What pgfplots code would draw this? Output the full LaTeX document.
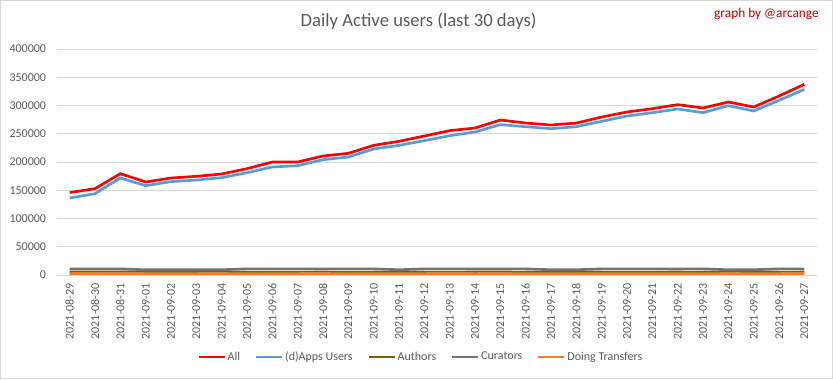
\documentclass[border=0pt]{standalone}
\usepackage{fontspec}
\setmainfont{Carlito}
\usepackage{pgfplots}
\pgfplotsset{compat=1.18}
\definecolor{gridgray}{HTML}{D9D9D9}
\definecolor{labelgray}{HTML}{595959}
\definecolor{allred}{HTML}{FF0000}
\definecolor{appblue}{HTML}{5B9BD5}
\definecolor{autholive}{HTML}{7F6000}
\definecolor{curgray}{HTML}{737373}
\definecolor{trorange}{HTML}{ED7D31}
\definecolor{signred}{HTML}{C00000}
\begin{document}
\begin{tikzpicture}
\path[use as bounding box] (0,0) rectangle (624.75pt,284.25pt);
\draw[gridgray, line width=0.75pt] (0.375pt,0.375pt) rectangle (624.375pt,283.875pt);
\node[font=\fontsize{14}{16.8}\selectfont, text=labelgray, inner sep=0pt] at (314pt,268.5pt) {Daily Active users (last 30 days)};
\node[font=\fontsize{10}{12}\selectfont, text=signred, inner sep=0pt, anchor=east] at (614.25pt,273.75pt) {graph by @arcange};
\begin{axis}[
  scale only axis, width=570pt, height=169.5pt,
  at={(42.75pt,78pt)}, anchor=south west,
  xmin=-0.5, xmax=29.5, ymin=0, ymax=400000,
  ytick={0,50000,...,400000},
  scaled y ticks=false,
  /pgf/number format/assume math mode=true,
  yticklabel style={/pgf/number format/fixed, /pgf/number format/1000 sep={}},
  xtick={0,...,29},
  xticklabels={2021-08-29,2021-08-30,2021-08-31,2021-09-01,2021-09-02,2021-09-03,2021-09-04,2021-09-05,2021-09-06,2021-09-07,2021-09-08,2021-09-09,2021-09-10,2021-09-11,2021-09-12,2021-09-13,2021-09-14,2021-09-15,2021-09-16,2021-09-17,2021-09-18,2021-09-19,2021-09-20,2021-09-21,2021-09-22,2021-09-23,2021-09-24,2021-09-25,2021-09-26,2021-09-27},
  xticklabel style={rotate=90, anchor=east, inner sep=0pt},
  yticklabel style={anchor=east, inner sep=0pt},
  xticklabel shift=6pt,
  yticklabel shift=8pt,
  tick label style={font=\fontsize{9}{10.8}\selectfont, text=labelgray},
  major tick length=0pt,
  ymajorgrids,
  grid style={draw=gridgray, line width=0.75pt},
  axis x line*=bottom, axis y line*=left,
  x axis line style={draw=gridgray, line width=0.75pt, -},
  y axis line style={draw=none},
  legend columns=-1,
  legend style={draw=none, fill=none, at={(0.4776,-0.3628)}, anchor=center,
    font=\fontsize{9}{10.8}\selectfont, text=labelgray,
    nodes={inner sep=0pt},
    /tikz/every even column/.append style={column sep=11.25pt},
    /tikz/every odd column/.append style={column sep=1.5pt}},
  legend image code/.code={\draw[#1, line width=1.5pt] (0pt,0pt) -- (19.5pt,0pt);},
  every axis plot/.append style={line width=2pt, mark=none, line join=round},
]
\addplot[allred] coordinates {(0,146000)(1,152800)(2,179400)(3,164600)(4,171700)(5,174600)(6,178800)(7,188200)(8,200000)(9,200000)(10,210600)(11,215300)(12,229500)(13,236600)(14,246000)(15,255500)(16,260200)(17,274300)(18,269000)(19,265500)(20,269000)(21,279600)(22,288500)(23,294400)(24,301500)(25,295600)(26,306200)(27,297300)(28,316800)(29,337500)};
\addlegendentry{All}
\addplot[appblue] coordinates {(0,136300)(1,144000)(2,171700)(3,158100)(4,165200)(5,168100)(6,172300)(7,181100)(8,191200)(9,193500)(10,204100)(11,208800)(12,223000)(13,229500)(14,237800)(15,246600)(16,253100)(17,266100)(18,262500)(19,259000)(20,262500)(21,272000)(22,281400)(23,287300)(24,293800)(25,287300)(26,299700)(27,290300)(28,309100)(29,328600)};
\addlegendentry{(d)Apps Users}
\addplot[autholive] coordinates {(0,5300)(1,5200)(2,5400)(3,5100)(4,5000)(5,5000)(6,5100)(7,4900)(8,5000)(9,5100)(10,5200)(11,5000)(12,5100)(13,4900)(14,5000)(15,5100)(16,5200)(17,5300)(18,5000)(19,4900)(20,5000)(21,5100)(22,5000)(23,5100)(24,5200)(25,5000)(26,5100)(27,4900)(28,5000)(29,5200)};
\addlegendentry{Authors}
\addplot[curgray] coordinates {(0,10800)(1,10800)(2,10800)(3,9300)(4,9300)(5,9300)(6,9300)(7,10800)(8,10800)(9,10800)(10,10800)(11,10800)(12,10800)(13,9300)(14,10800)(15,10800)(16,10800)(17,10800)(18,10800)(19,9300)(20,9300)(21,10800)(22,10800)(23,10800)(24,10800)(25,10800)(26,9300)(27,9300)(28,10800)(29,10800)};
\addlegendentry{Curators}
\addplot[trorange] coordinates {(0,2500)(1,2600)(2,2700)(3,2500)(4,2400)(5,2500)(6,2600)(7,2200)(8,2400)(9,2500)(10,2600)(11,2300)(12,2500)(13,2400)(14,2500)(15,2600)(16,2500)(17,2600)(18,2400)(19,2500)(20,2300)(21,2400)(22,2500)(23,2400)(24,2500)(25,2300)(26,2600)(27,2400)(28,2500)(29,2600)};
\addlegendentry{Doing Transfers}
\end{axis}
\end{tikzpicture}
\end{document}
